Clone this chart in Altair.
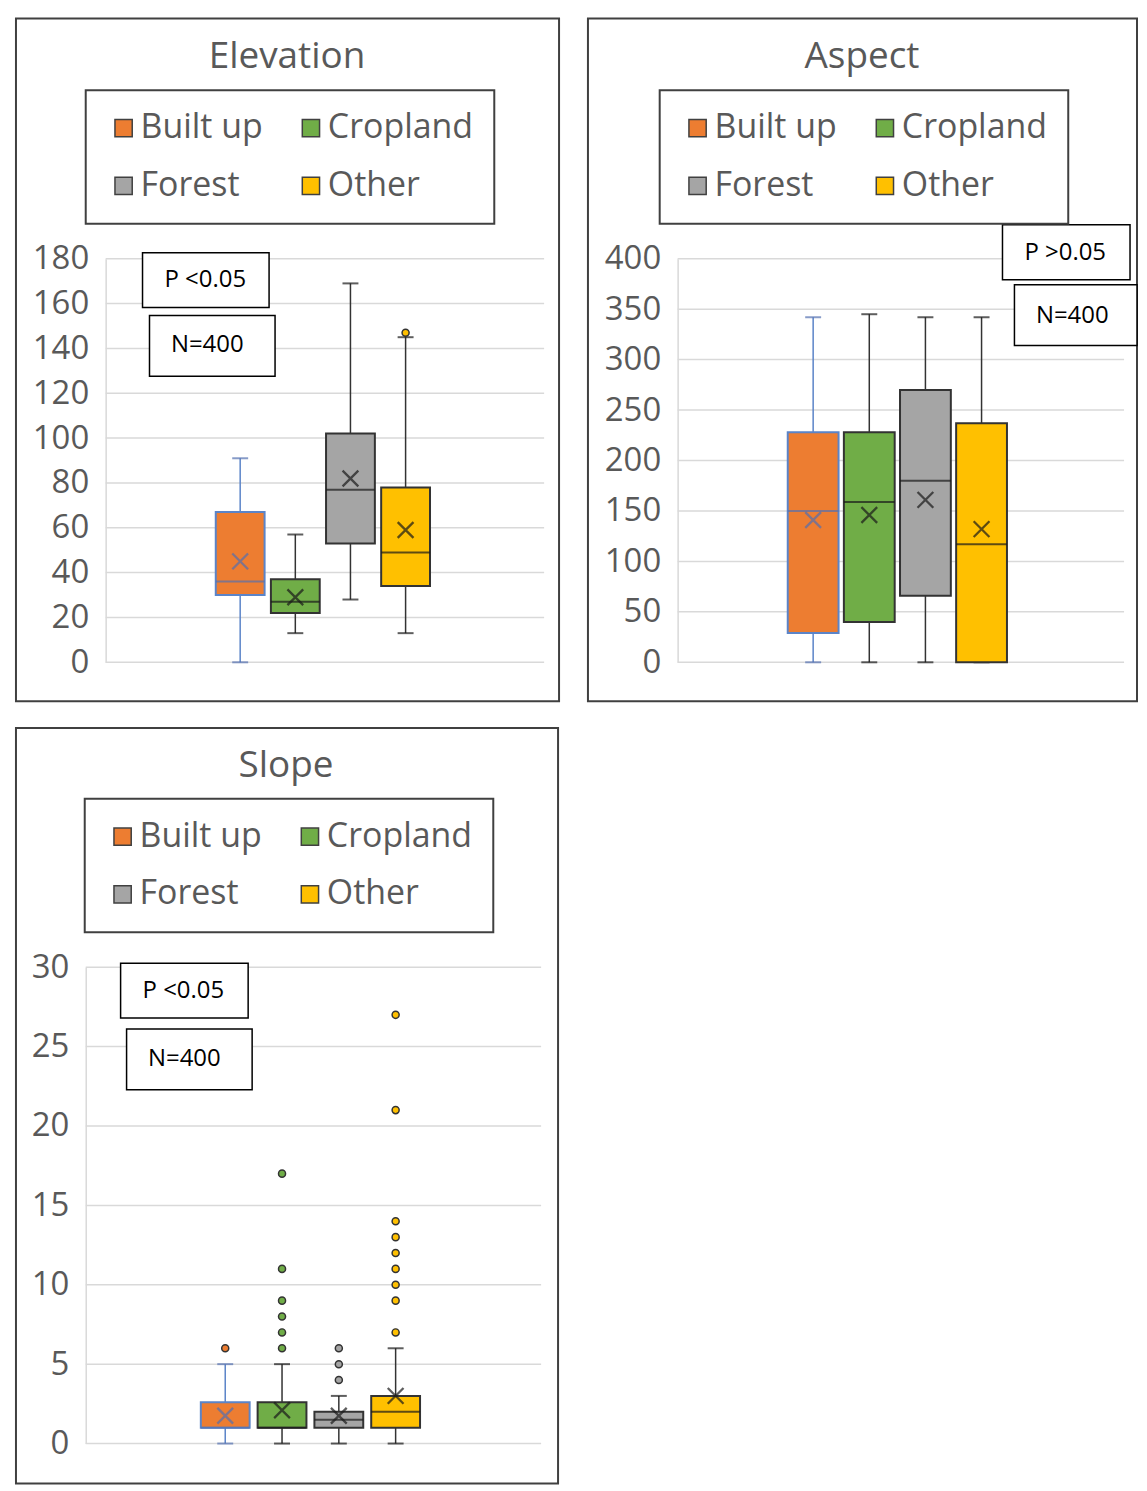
import altair as alt
import pandas as pd

CATS = ["Built up", "Cropland", "Forest", "Other"]
FILLS = ["#ED7D31", "#70AD47", "#A5A5A5", "#FFC000"]
EDGES = ["#5B84C8", "#333333", "#333333", "#333333"]
MARKC = ["#5470B0", "#1a1a1a", "#1a1a1a", "#1a1a1a"]

# Elevation
ELEV_TICKS = [0, 20, 40, 60, 80, 100, 120, 140, 160, 180]
ELEV_MIN = [0, 13, 28, 13]
ELEV_Q1 = [30, 22, 53, 34]
ELEV_MED = [36, 27, 77, 49]
ELEV_Q3 = [67, 37, 102, 78]
ELEV_MAX = [91, 57, 169, 145]
ELEV_MEAN = [45, 29, 82, 59]
ELEV_OUT_CAT = ["Other"]
ELEV_OUT_VAL = [147]

# Aspect
ASP_TICKS = [0, 50, 100, 150, 200, 250, 300, 350, 400]
ASP_MIN = [0, 0, 0, 0]
ASP_Q1 = [29, 40, 66, 0]
ASP_MED = [150, 159, 180, 117]
ASP_Q3 = [228, 228, 270, 237]
ASP_MAX = [342, 345, 342, 342]
ASP_MEAN = [141, 146, 161, 132]
ASP_OUT_CAT = []
ASP_OUT_VAL = []

# Slope
SLO_TICKS = [0, 5, 10, 15, 20, 25, 30]
SLO_MIN = [0, 0, 0, 0]
SLO_Q1 = [1, 1, 1, 1]
SLO_MED = [1, 1, 1.5, 2]
SLO_Q3 = [2.6, 2.6, 2, 3]
SLO_MAX = [5, 5, 3, 6]
SLO_MEAN = [1.75, 2.1, 1.75, 3.0]
SLO_OUT_CAT = (["Built up"] + ["Cropland"] * 6 + ["Forest"] * 3 + ["Other"] * 9)
SLO_OUT_VAL = ([6] + [6, 7, 8, 9, 11, 17] + [4, 5, 6] + [7, 9, 10, 11, 12, 13, 14, 21, 27])

TITLES = ["Elevation", "Aspect", "Slope"]
P_LABELS = ["P <0.05", "P >0.05", "P <0.05"]
N_LABEL = "N=400"

XPATH = "M-1,-1L1,1M-1,1L1,-1"
FONT = "Open Sans"


def panel(title, mins, q1s, meds, q3s, maxs, means, out_cats, out_vals, ticks, p_label, g):
    stats = pd.DataFrame({"cat": CATS, "lo": mins, "q1": q1s, "med": meds,
                          "q3": q3s, "hi": maxs, "mean": means})
    outl = pd.DataFrame({"cat": out_cats, "v": out_vals})
    grid = pd.DataFrame({"v": ticks})
    one = pd.DataFrame({"k": [0]})

    yscale = alt.Scale(domain=[ticks[0], ticks[-1]], range=g["yr"], nice=False, zero=False)
    yaxis = alt.Axis(values=ticks, grid=False, ticks=False, domain=True,
                     domainColor="#d9d9d9", domainWidth=1.5, labelFont=FONT,
                     labelFontSize=33, labelColor="#595959", labelPadding=17,
                     offset=-g["ax"], labelFlush=False, labelOverlap=False)

    def Y(f):
        return alt.Y(f"{f}:Q", scale=yscale, axis=yaxis, title=None)

    X = alt.X("cat:N", scale=alt.Scale(type="point", domain=CATS, range=g["xr"], padding=0), axis=None)
    legend = alt.Legend(orient="none", legendX=g["leg"][0], legendY=g["leg"][1], columns=2,
                        direction="horizontal",
                        symbolType="square", symbolSize=300, symbolStrokeWidth=1.5,
                        symbolStrokeColor="#404040", symbolOpacity=1,
                        labelFont=FONT, labelFontSize=34, labelColor="#595959",
                        labelOffset=0, columnPadding=31, rowPadding=24, padding=21,
                        strokeColor="#404040", fillColor="white", labelLimit=400)
    fill = alt.Fill("cat:N", scale=alt.Scale(domain=CATS, range=FILLS), legend=legend, title=None)
    stroke = alt.Stroke("cat:N", scale=alt.Scale(range=EDGES), legend=None)
    color = alt.Color("cat:N", scale=alt.Scale(range=MARKC), legend=None)

    gl = alt.Chart(grid).mark_rule(color="#d9d9d9", strokeWidth=1.5).encode(
        y=Y("v"), x=alt.value(g["grid"][0]), x2=alt.value(g["grid"][1]))
    wlo = alt.Chart(stats).mark_rule(strokeWidth=1.5).encode(x=X, y=Y("lo"), y2=alt.Y2("q1"), stroke=stroke)
    whi = alt.Chart(stats).mark_rule(strokeWidth=1.5).encode(x=X, y=Y("q3"), y2=alt.Y2("hi"), stroke=stroke)
    clo = alt.Chart(stats).mark_tick(size=16, thickness=2).encode(x=X, y=Y("lo"), color=color)
    chi = alt.Chart(stats).mark_tick(size=16, thickness=2).encode(x=X, y=Y("hi"), color=color)
    box = alt.Chart(stats).mark_bar(width=g["bw"], strokeWidth=2).encode(
        x=X, y=Y("q1"), y2=alt.Y2("q3"), fill=fill, stroke=stroke)
    med = alt.Chart(stats).mark_tick(size=g["bw"], thickness=2).encode(x=X, y=Y("med"), color=color)
    mean = alt.Chart(stats).mark_point(shape=XPATH, filled=False, size=250, strokeWidth=2.3).encode(
        x=X, y=Y("mean"), color=color)
    layers = [gl, wlo, whi, clo, chi, box, med, mean]
    if len(out_vals):
        layers.append(alt.Chart(outl).mark_point(filled=True, size=50, stroke="#333333",
                                                 strokeWidth=1.5, opacity=1).encode(
            x=X, y=Y("v"), fill=fill))
    px0, py0, px1, py1 = g["p"]
    nx0, ny0, nx1, ny1 = g["n"]
    layers += [
        alt.Chart(one).mark_rect(fill="white", stroke="black", strokeWidth=1.5).encode(
            x=alt.value(px0), x2=alt.value(px1), y=alt.value(py0), y2=alt.value(py1)),
        alt.Chart(one).mark_text(font=FONT, fontSize=24, color="black").encode(
            text=alt.value(p_label), x=alt.value(g["pt"][0]), y=alt.value(g["pt"][1])),
        alt.Chart(one).mark_rect(fill="white", stroke="black", strokeWidth=1.5).encode(
            x=alt.value(nx0), x2=alt.value(nx1), y=alt.value(ny0), y2=alt.value(ny1)),
        alt.Chart(one).mark_text(font=FONT, fontSize=24, color="black").encode(
            text=alt.value(N_LABEL), x=alt.value(g["nt"][0]), y=alt.value(g["nt"][1])),
        alt.Chart(one).mark_text(font=FONT, fontSize=37, color="#595959").encode(
            text=alt.value(title), x=alt.value(g["t"][0]), y=alt.value(g["t"][1])),
    ]
    return alt.layer(*layers).properties(width=g["W"], height=g["H"])


G_ELEV = dict(W=545, H=685, yr=[646, 241], xr=[225, 391], grid=(90, 530), ax=90, leg=(70, 72),
              t=(272, 39), p=(127, 235, 254, 290), pt=(190, 262), n=(134, 298, 260, 359), nt=(192, 328), bw=49)
G_ASP = dict(W=551, H=685, yr=[646, 241], xr=[226, 395], grid=(90, 538), ax=90, leg=(72, 72),
             t=(275, 39), p=(416, 207, 544, 262), pt=(479, 235), n=(428, 267, 551, 328), nt=(486, 298), bw=51)
G_SLO = dict(W=544, H=758, yr=[718, 240], xr=[210, 381], grid=(70, 527), ax=70, leg=(69, 71),
             t=(271, 38), p=(105, 236, 233, 291), pt=(168, 264), n=(111, 302, 237, 363), nt=(169, 332), bw=49)

elev = panel(TITLES[0], ELEV_MIN, ELEV_Q1, ELEV_MED, ELEV_Q3, ELEV_MAX, ELEV_MEAN,
             ELEV_OUT_CAT, ELEV_OUT_VAL, ELEV_TICKS, P_LABELS[0], G_ELEV)
asp = panel(TITLES[1], ASP_MIN, ASP_Q1, ASP_MED, ASP_Q3, ASP_MAX, ASP_MEAN,
            ASP_OUT_CAT, ASP_OUT_VAL, ASP_TICKS, P_LABELS[1], G_ASP)
slo = panel(TITLES[2], SLO_MIN, SLO_Q1, SLO_MED, SLO_Q3, SLO_MAX, SLO_MEAN,
            SLO_OUT_CAT, SLO_OUT_VAL, SLO_TICKS, P_LABELS[2], G_SLO)

RS = dict(x="independent", y="independent", fill="independent", stroke="independent", color="independent")
RL = dict(fill="independent")

top = alt.hconcat(elev, asp, spacing=27).resolve_scale(**RS).resolve_legend(**RL)
chart = alt.vconcat(top, slo, spacing=25).resolve_scale(**RS).resolve_legend(**RL)
chart = chart.properties(
    padding={"left": 7, "top": 7, "right": 0, "bottom": 0}, background="white"
).configure_view(stroke="#404040", strokeWidth=2).configure_legend(strokeWidth=2)

chart.save("out.html", embed_options={"renderer": "svg", "actions": False})
